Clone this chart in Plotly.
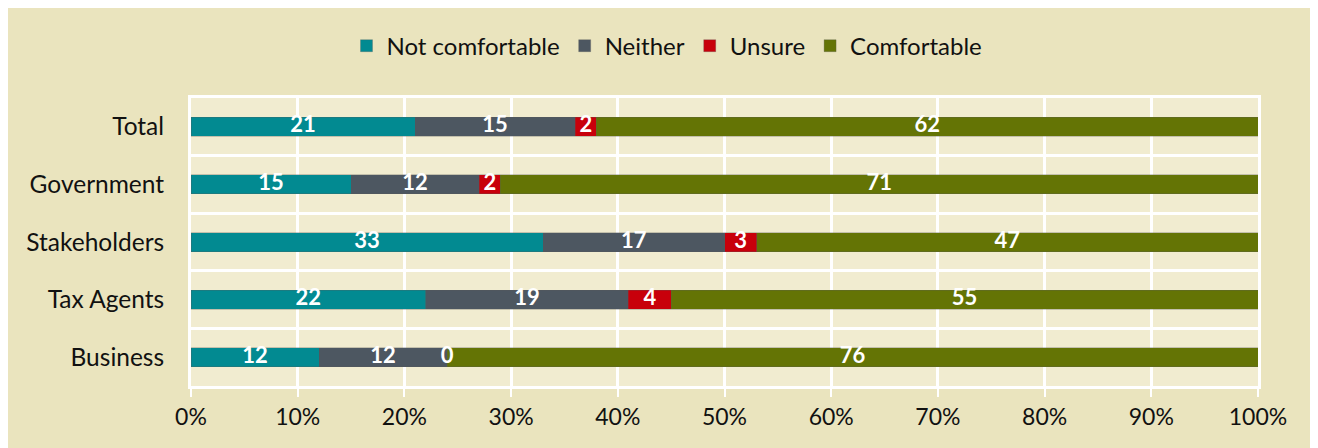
import plotly.graph_objects as go

# Survey groups, top to bottom
groups = ["Total", "Government", "Stakeholders", "Tax Agents", "Business"]

# Share of respondents (%) per answer
not_comfortable = [21, 15, 33, 22, 12]
neither = [15, 12, 17, 19, 12]
unsure = [2, 2, 3, 4, 0]
comfortable = [62, 71, 47, 55, 76]

series = [
    ("Not comfortable", not_comfortable, "#028A91"),
    ("Neither", neither, "#4D5761"),
    ("Unsure", unsure, "#C8000B"),
    ("Comfortable", comfortable, "#647405"),
]

FONT = "Lato, Calibri, sans-serif"

fig = go.Figure()
for name, vals, color in series:
    fig.add_trace(
        go.Bar(
            x=vals,
            y=groups,
            orientation="h",
            name=name,
            marker=dict(color=color, line=dict(width=0.6, color="rgba(90,90,90,0.5)")),
            hovertemplate=f"{name}<br>%{{y}}: %{{x}}%<extra></extra>",
        )
    )

# data labels centred on each segment (a text trace so zero-width segments still get a label)
left = [0] * len(groups)
for name, vals, color in series:
    mids = [l + v / 2 for l, v in zip(left, vals)]
    fig.add_trace(
        go.Scatter(
            x=mids,
            y=groups,
            mode="text",
            text=[str(v) for v in vals],
            textposition="middle center",
            textfont=dict(family=FONT, size=22, color="white", weight="bold"),
            showlegend=False,
            hoverinfo="skip",
        )
    )
    left = [l + v for l, v in zip(left, vals)]

fig.update_layout(
    barmode="stack",
    bargap=0.67,
    width=1318,
    height=448,
    paper_bgcolor="#EAE4BE",
    plot_bgcolor="#F1ECD0",
    font=dict(family=FONT, size=23, color="#111111"),
    margin=dict(l=183, r=68, t=90, b=70),
    legend=dict(
        orientation="h",
        xref="container",
        yref="container",
        x=0.5,
        xanchor="center",
        y=0.915,
        yanchor="middle",
        font=dict(size=24),
        traceorder="normal",
        itemwidth=30,
    ),
    showlegend=True,
)

fig.update_xaxes(
    range=[0, 100],
    tickvals=[0, 10, 20, 30, 40, 50, 60, 70, 80, 90, 100],
    ticktext=["0%", "10%", "20%", "30%", "40%", "50%", "60%", "70%", "80%", "90%", "100%"],
    showgrid=True,
    gridcolor="white",
    gridwidth=3,
    showline=True,
    linecolor="white",
    linewidth=3,
    mirror=True,
    ticks="outside",
    tickcolor="white",
    tickwidth=2,
    ticklen=8,
    zeroline=False,
    fixedrange=True,
)
fig.update_yaxes(
    type="category",
    categoryorder="array",
    categoryarray=groups,
    autorange="reversed",
    tickson="boundaries",
    tickfont=dict(size=24.5),
    showgrid=True,
    gridcolor="white",
    gridwidth=3,
    showline=True,
    linecolor="white",
    linewidth=3,
    mirror=True,
    ticks="",
    ticklabelstandoff=19,
    fixedrange=True,
)

fig.write_html("out.html")
